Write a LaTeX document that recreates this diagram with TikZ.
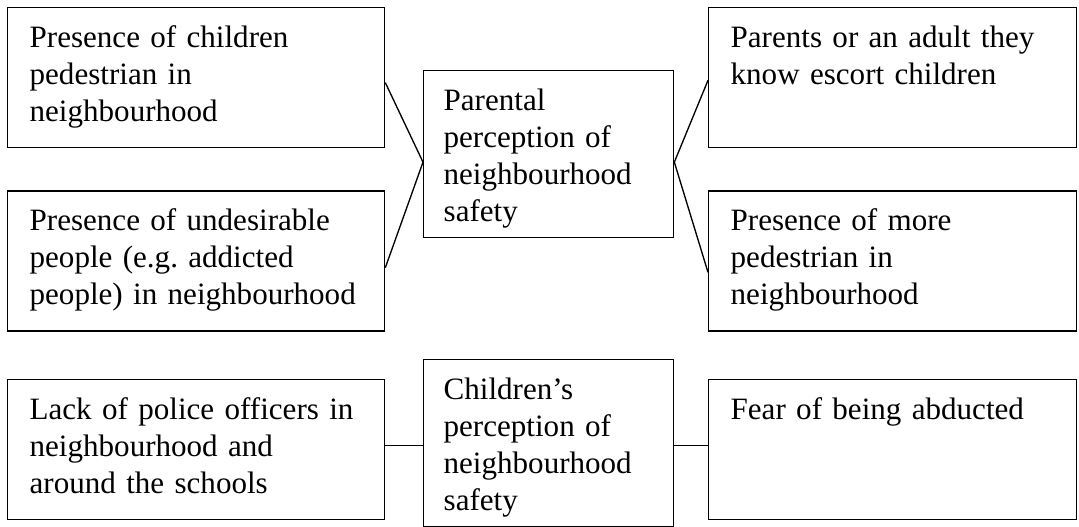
\documentclass[tikz,border=0pt]{standalone}
\usepackage{fontspec}
\setmainfont{Liberation Serif}
\usetikzlibrary{positioning}

\begin{document}
\begin{tikzpicture}[
  x=0.75pt, y=-0.75pt,
  font=\fontsize{23.3pt}{27.75pt}\selectfont,
  box/.style={draw, line width=1pt, align=left, inner xsep=16.5pt, inner ysep=0pt, text height=30pt, text depth=75pt},
  lbox/.style={box, text width=249.75pt},
  rbox/.style={box, text width=243pt},
  pbox/.style={box, inner xsep=15pt, text width=157.5pt, text depth=95.25pt},
  link/.style={line width=1pt}
]
\useasboundingbox (0,0) rectangle (1079,527);

% parents' side
\node[lbox, anchor=north west] (chped) at (7,7) {Presence of children\\pedestrian in\\neighbourhood};
\node[lbox, below=31.5pt of chped] (undes) {Presence of undesirable\\people (e.g.\ addicted\\people) in neighbourhood};
\node[pbox, anchor=north west] (parent) at (423,70) {Parental\\perception of\\neighbourhood\\safety};
\node[rbox, anchor=north west] (escort) at (708,7) {Parents or an adult they\\know escort children};
\node[rbox, below=31.5pt of escort] (morep) {Presence of more\\pedestrian in\\neighbourhood};

% children's side
\node[lbox, below=35.25pt of undes] (police) {Lack of police officers in\\neighbourhood and\\around the schools};
\node[pbox, anchor=north west] (child) at (423,359) {Children’s\\perception of\\neighbourhood\\safety};
\node[rbox, below=35.25pt of morep] (abduct) {Fear of being abducted};

\draw[link] ([yshift=-3.75pt]chped.east) -- ([yshift=-6pt]parent.west);
\draw[link] ([yshift=-5pt]undes.east) -- ([yshift=-6pt]parent.west);
\draw[link] ([yshift=-6pt]parent.east) -- ([yshift=-2pt]escort.west);
\draw[link] ([yshift=-6pt]parent.east) -- ([yshift=-8.5pt]morep.west);
\draw[link] ([yshift=3pt]police.east) -- ([yshift=3pt]police.east -| child.west);
\draw[link] ([yshift=3pt]abduct.west -| child.east) -- ([yshift=3pt]abduct.west);
\end{tikzpicture}
\end{document}
